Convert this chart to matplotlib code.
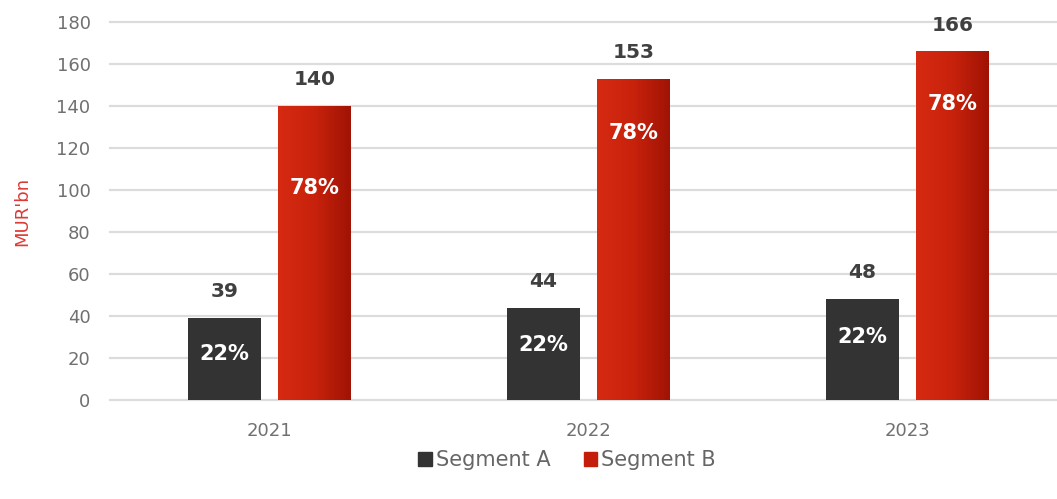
import numpy as np
import matplotlib
matplotlib.use("Agg")
import matplotlib.pyplot as plt
from matplotlib.patches import Patch
from matplotlib.colors import LinearSegmentedColormap

# Data (MUR bn)
years = ["2021", "2022", "2023"]
segment_a = [39, 44, 48]
segment_b = [140, 153, 166]
y_ticks = [0, 20, 40, 60, 80, 100, 120, 140, 160, 180]

# Vertical anchor of the share labels inside each bar
share_y_a = [22, 26, 30]
share_y_b = [101, 127, 141]

dark = "#333333"
red_left = "#d62a12"
red_mid = "#c8220c"
red_right = "#a01304"
grid_c = "#dcdcdc"
tick_c = "#707070"
val_c = "#404040"

plt.rcParams["font.family"] = ["DejaVu Sans"]

fig = plt.figure(figsize=(10.57, 4.99), dpi=100)
ax = fig.add_axes([110 / 1057, 99 / 499, (1057 - 110) / 1057, 378 / 499])

x = np.arange(len(years))
w = 0.228
off = 0.142

ax.set_yticks(y_ticks)
for t in y_ticks:
    ax.axhline(t, color=grid_c, lw=1.6, zorder=0, clip_on=False)

bars_a = ax.bar(x - off, segment_a, width=w, color=dark, zorder=2)
bars_b = ax.bar(x + off, segment_b, width=w, color="none", zorder=2)

cmap = LinearSegmentedColormap.from_list(
    "redgrad", [(0, red_left), (0.5, red_mid), (1, red_right)])
grad = np.linspace(0, 1, 256).reshape(1, -1)
for b in bars_b:
    x0, y0 = b.get_x(), b.get_y()
    im = ax.imshow(grad, cmap=cmap, aspect="auto", zorder=2,
                   extent=[x0, x0 + b.get_width(), y0, y0 + b.get_height()],
                   interpolation="bicubic")
    im.set_clip_path(b)
ax.set_xlim(-0.5, -0.5 + 947 / 319)
ax.set_ylim(0, 180)

totals = [a + b for a, b in zip(segment_a, segment_b)]
for i in range(len(years)):
    pa = round(segment_a[i] / totals[i] * 100)
    pb = round(segment_b[i] / totals[i] * 100)
    ax.annotate(str(segment_a[i]), (x[i] - off, segment_a[i]), xytext=(0, 19),
                textcoords="offset points", ha="center", va="center",
                fontsize=14.5, fontweight="bold", color=val_c, zorder=3)
    ax.annotate(str(segment_b[i]), (x[i] + off, segment_b[i]), xytext=(0, 19),
                textcoords="offset points", ha="center", va="center",
                fontsize=14.5, fontweight="bold", color=val_c, zorder=3)
    ax.text(x[i] - off, share_y_a[i], f"{pa}%", ha="center", va="center",
            fontsize=15, fontweight="bold", color="white", zorder=3)
    ax.text(x[i] + off, share_y_b[i], f"{pb}%", ha="center", va="center",
            fontsize=15, fontweight="bold", color="white", zorder=3)

ax.set_xticks(x)
ax.set_xticklabels(years)
ax.tick_params(axis="x", length=0, pad=16, labelsize=13, labelcolor=tick_c)
ax.tick_params(axis="y", length=0, pad=14, labelsize=13, labelcolor=tick_c)
for s in ax.spines.values():
    s.set_visible(False)

fig.text(22 / 1057, 1 - 211 / 499, "MUR'bn", rotation=90, ha="center",
         va="center", fontsize=13, color="#dc3b34")

handles = [Patch(facecolor=dark, edgecolor=dark),
           Patch(facecolor="#c41e0a", edgecolor="#c41e0a")]
fig.legend(handles, ["Segment A", "Segment B"], loc="center",
           bbox_to_anchor=(567 / 1057, 1 - 460 / 499), ncol=2, frameon=False,
           fontsize=15, labelcolor="#666666", handlelength=0.65,
           handleheight=0.65, handletextpad=0.2, columnspacing=1.6)

fig.savefig("out.png", dpi=100)
